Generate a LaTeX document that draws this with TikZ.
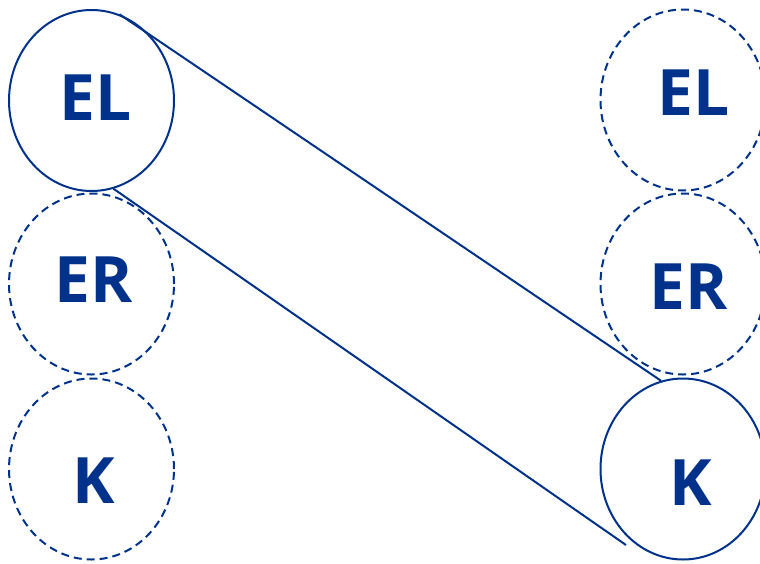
\documentclass[tikz,border=0pt]{standalone}
\usepackage{fontspec}
\setmainfont{Open Sans}
\usetikzlibrary{shapes.geometric}
\definecolor{mainblue}{RGB}{0,50,140}
\tikzset{
  setbox/.style={ellipse, draw=mainblue, line width=2pt, minimum width=165pt, minimum height=181pt, inner sep=0pt},
  dashedbox/.style={setbox, dash pattern=on 8pt off 5pt},
  lab/.style={text=mainblue, anchor=base, inner sep=0pt, font=\fontsize{64}{64}\selectfont\bfseries},
  link/.style={draw=mainblue, line width=2pt}
}
\begin{document}
\begin{tikzpicture}[x=1pt,y=-1pt]
\useasboundingbox (0,0) rectangle (760,563);
% left column
\node[setbox] (elL) at (91.5,100.5) {};
\node[dashedbox] (erL) at (91.5,284) {};
\node[dashedbox] (kL) at (91.5,469) {};
% right column
\node[dashedbox] (elR) at (683,100) {};
\node[dashedbox] (erR) at (683,284) {};
\node[setbox] (kR) at (683,469) {};
% labels
\node[lab] (telL) at (95.5,120) {EL};
\node[lab] (terL) at (94,302) {ER};
\node[lab] (tkL) at (93.5,503) {K};
\node[lab] (telR) at (693.5,115) {EL};
\node[lab] (terR) at (688.5,309) {ER};
\node[lab] (tkR) at (691,505) {K};
% connectors
\coordinate (kEnd) at (626,545);
\draw[link] (elL.72) -- (kR.104);
\draw[link] (elL.-76) -- (kEnd);
\end{tikzpicture}
\end{document}
